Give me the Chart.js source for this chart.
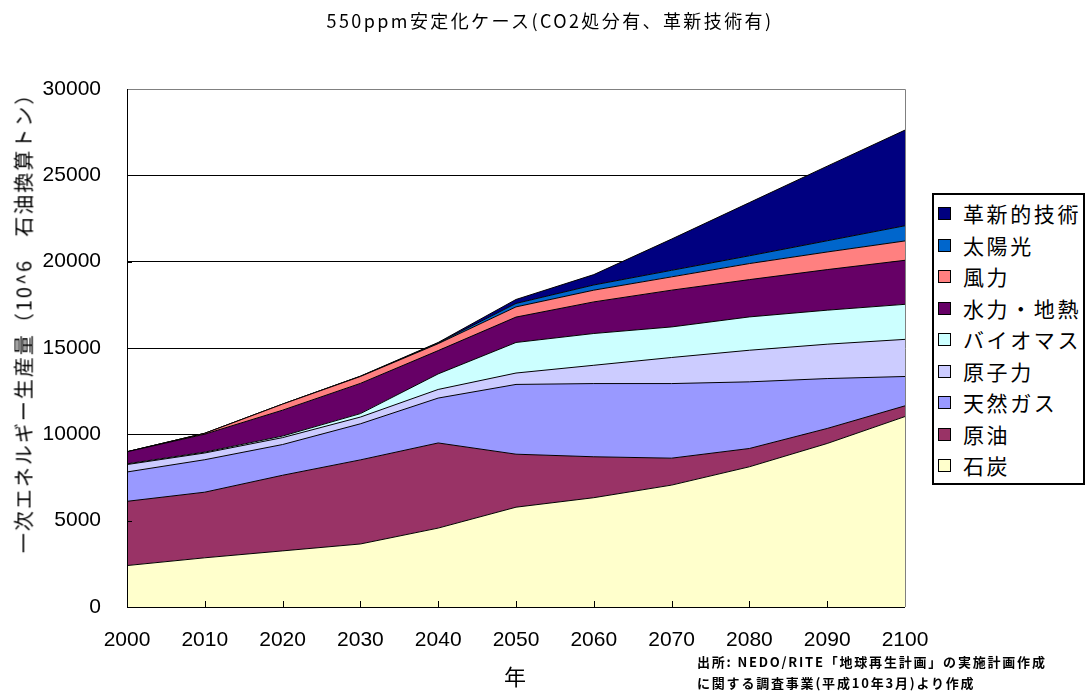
<!DOCTYPE html>
<html lang="ja">
<head>
<meta charset="utf-8">
<script src="https://cdn.jsdelivr.net/npm/chart.js@4/dist/chart.umd.min.js"></script>
<style>
  html, body { margin: 0; padding: 0; background: #fff; }
  #wrap { position: relative; width: 1089px; height: 696px; overflow: hidden;
          font-family: "Noto Sans CJK JP", "Noto Sans", sans-serif; color: #000; }
  #cv { position: absolute; left: 0; top: 0; }
  .title { position: absolute; left: 550px; top: 20px; transform: translate(-50%, -50%);
           white-space: nowrap; font-size: 18px; letter-spacing: 2.4px; }
  .ytitle { position: absolute; left: 23px; top: 318px; transform: translate(-50%, -50%) rotate(-90deg);
            white-space: nowrap; font-size: 20px; letter-spacing: 2px; }
  .xtitle { position: absolute; left: 515px; top: 675px; transform: translate(-50%, -50%);
            font-size: 22px; }
  .legend { position: absolute; left: 932px; top: 193px; width: 153px; height: 292px;
            border: 2px solid #000; box-sizing: border-box; background: #fff; padding-top: 3px; }
  .legend .row { height: 31.5px; display: flex; align-items: center; white-space: nowrap; }
  .legend .sw { width: 11px; height: 11px; border: 1px solid #000; margin-left: 4px; margin-right: 12px; flex: none; }
  .legend .lbl { font-size: 21px; letter-spacing: 2.6px; line-height: 1; }
  .note { position: absolute; left: 697px; font-size: 13px; font-weight: bold; letter-spacing: 1.8px;
          white-space: nowrap; line-height: 1; }
</style>
</head>
<body>
<div id="wrap">
  <canvas id="cv" width="1089" height="696"></canvas>
  <div class="title" id="title"></div>
  <div class="ytitle" id="ytitle"></div>
  <div class="xtitle" id="xtitle"></div>
  <div class="legend" id="legend"></div>
  <div class="note" id="note1" style="top:655px"></div>
  <div class="note" id="note2" style="top:676px"></div>
</div>
<script>
// Primary energy production by source, 550ppm stabilisation case (Mtoe)
const years = ['2000', '2010', '2020', '2030', '2040', '2050', '2060', '2070', '2080', '2090', '2100'];

const coal       = [2400, 2850, 3250, 3650, 4570, 5780, 6330, 7060, 8120, 9470, 11030];
const oil        = [3720, 3800, 4380, 4870, 4930, 3070, 2370, 1560, 1060,  870,   620];
const gas        = [1700, 1880, 1780, 2090, 2600, 4040, 4240, 4320, 3860, 2890,  1700];
const nuclear    = [ 430,  390,  400,  390,  500,  660, 1060, 1510, 1830, 1990,  2150];
const biomass    = [  40,   50,   90,  200,  900, 1770, 1840, 1770, 1930, 1970,  2030];
const hydro      = [ 700, 1040, 1500, 1750, 1350, 1470, 1830, 2130, 2160, 2350,  2550];
const wind       = [   0,   50,  350,  400,  400,  590,  680,  770,  930, 1020,  1120];
const solar      = [   0,    0,    0,   10,   40,  200,  300,  380,  450,  650,   880];
const innovative = [   0,    0,    0,   10,   30,  230,  600, 1810, 3080, 4320,  5540];

const seriesNames  = ['石炭', '原油', '天然ガス', '原子力', 'バイオマス', '水力・地熱', '風力', '太陽光', '革新的技術'];
const seriesValues = [coal, oil, gas, nuclear, biomass, hydro, wind, solar, innovative];
const seriesColors = ['#FFFFCC', '#993366', '#9999FF', '#CCCCFF', '#CCFFFF', '#660066', '#FF8080', '#0066CC', '#000080'];

const yTicks = [0, 5000, 10000, 15000, 20000, 25000, 30000];

const chartTitle = '550ppm安定化ケース(CO2処分有、革新技術有)';
const yTitle = '一次エネルギー生産量（10^6　石油換算トン）';
const xTitle = '年';
const notes = ['出所: NEDO/RITE「地球再生計画」の実施計画作成', 'に関する調査事業(平成10年3月)より作成'];

document.getElementById('title').textContent = chartTitle;
document.getElementById('ytitle').textContent = yTitle;
document.getElementById('xtitle').textContent = xTitle;
document.getElementById('note1').textContent = notes[0];
document.getElementById('note2').textContent = notes[1];

// legend, top to bottom in reverse stacking order
const legendEl = document.getElementById('legend');
for (let i = seriesNames.length - 1; i >= 0; i--) {
  const row = document.createElement('div');
  row.className = 'row';
  const sw = document.createElement('span');
  sw.className = 'sw';
  sw.style.background = seriesColors[i];
  const lbl = document.createElement('span');
  lbl.className = 'lbl';
  lbl.textContent = seriesNames[i];
  row.appendChild(sw);
  row.appendChild(lbl);
  legendEl.appendChild(row);
}

// plot frame, axis lines and inward tick marks
const framePlugin = {
  id: 'frame',
  afterDatasetsDraw(chart) {
    const { ctx, chartArea: a, scales: { x, y } } = chart;
    ctx.save();
    ctx.lineWidth = 1;
    ctx.strokeStyle = '#808080';
    ctx.beginPath();
    ctx.moveTo(a.left, Math.round(a.top) + 0.5);
    ctx.lineTo(Math.round(a.right) + 0.5, Math.round(a.top) + 0.5);
    ctx.lineTo(Math.round(a.right) + 0.5, a.bottom);
    ctx.stroke();
    ctx.strokeStyle = '#000';
    ctx.beginPath();
    ctx.moveTo(Math.round(a.left) + 0.5, a.top);
    ctx.lineTo(Math.round(a.left) + 0.5, Math.round(a.bottom) + 0.5);
    ctx.lineTo(a.right, Math.round(a.bottom) + 0.5);
    ctx.stroke();
    ctx.beginPath();
    years.forEach((yr, i) => {
      if (i === 0 || i === years.length - 1) return;
      const px = Math.round(x.getPixelForValue(i)) + 0.5;
      ctx.moveTo(px, a.bottom);
      ctx.lineTo(px, a.bottom - 6);
    });
    yTicks.forEach(v => {
      if (v === 0 || v === yTicks[yTicks.length - 1]) return;
      const py = Math.round(y.getPixelForValue(v)) + 0.5;
      ctx.moveTo(a.left, py);
      ctx.lineTo(a.left + 5, py);
    });
    ctx.stroke();
    ctx.restore();
  }
};

const datasets = seriesValues.map((vals, i) => ({
  label: seriesNames[i],
  data: vals,
  backgroundColor: seriesColors[i],
  borderColor: '#000',
  borderWidth: 1,
  pointRadius: 0,
  tension: 0,
  fill: i === 0 ? 'origin' : '-1'
}));

new Chart(document.getElementById('cv'), {
  type: 'line',
  data: { labels: years, datasets },
  plugins: [framePlugin],
  options: {
    responsive: false,
    animation: false,
    devicePixelRatio: 1,
    layout: { padding: { top: 89, right: 184, left: 0, bottom: 0 } },
    plugins: {
      legend: { display: false },
      title: { display: false },
      tooltip: { enabled: false }
    },
    scales: {
      x: {
        type: 'category',
        offset: false,
        grid: { display: false, drawTicks: false },
        border: { display: false },
        ticks: {
          autoSkip: false, maxRotation: 0, padding: 21, color: '#000',
          font: { family: '"Liberation Sans", Arial, sans-serif', size: 21 }
        },
        afterFit(s) { s.height = 89; }
      },
      y: {
        stacked: true,
        min: yTicks[0],
        max: yTicks[yTicks.length - 1],
        grid: {
          drawTicks: false,
          lineWidth: 1,
          color: ctx => (ctx.tick && ctx.tick.value === yTicks[yTicks.length - 1]) ? '#808080' : '#000'
        },
        border: { display: false },
        ticks: {
          stepSize: yTicks[1] - yTicks[0],
          padding: 26, color: '#000',
          font: { family: '"Liberation Sans", Arial, sans-serif', size: 21 },
          callback: v => String(v)
        },
        afterFit(s) { s.width = 127; }
      }
    }
  }
});
</script>
</body>
</html>
